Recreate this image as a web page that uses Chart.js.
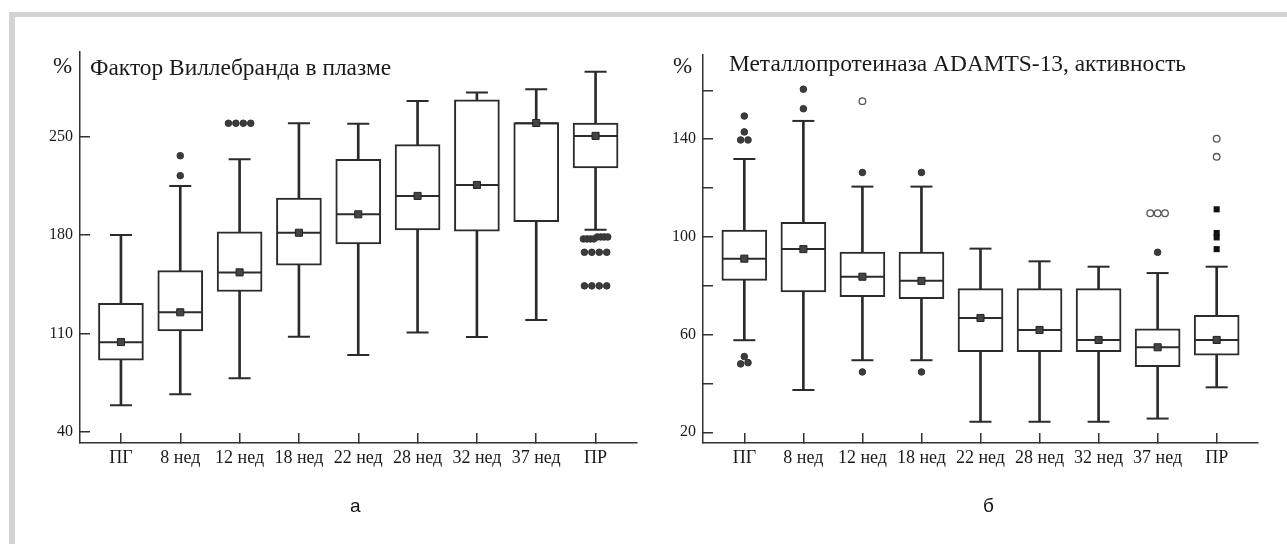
<!DOCTYPE html>
<html><head><meta charset="utf-8">
<script src="https://cdn.jsdelivr.net/npm/chart.js@4.4.1/dist/chart.umd.min.js"></script>
<style>
html,body{margin:0;padding:0;background:#fff;width:1287px;height:544px;overflow:hidden;position:relative;}
#frame{position:absolute;left:9px;top:12px;width:1400px;height:600px;border-top:5px solid #d3d3d3;border-left:6px solid #d3d3d3;}
.wrap{position:absolute;top:0;height:544px;}
#wa{left:0;width:660px;}
#wb{left:640px;width:647px;}
.txt{position:absolute;font-family:'Liberation Serif','Times New Roman',serif;font-size:23.4px;line-height:1;color:#1a1a1a;white-space:nowrap;}
.pct{font-size:23px;}
.cap{position:absolute;font-family:'Liberation Sans',Arial,sans-serif;font-size:19px;line-height:19px;color:#111;}
</style></head>
<body>
<div id="frame"></div>
<div class="wrap" id="wa"><canvas id="ca"></canvas></div>
<div class="wrap" id="wb"><canvas id="cb"></canvas></div>
<div class="txt pct" style="left:53px;top:54px;">%</div>
<div class="txt" style="left:90px;top:56px;">Фактор Виллебранда в плазме</div>
<div class="txt pct" style="left:673px;top:54px;">%</div>
<div class="txt" style="left:729px;top:52px;">Металлопротеиназа ADAMTS-13, активность</div>
<div class="cap" style="left:350px;top:496px;">а</div>
<div class="cap" style="left:983px;top:496px;">б</div>
<script>
// ---------- data ----------
const categories = ['ПГ','8 нед','12 нед','18 нед','22 нед','28 нед','32 нед','37 нед','ПР'];

// (а) Фактор Виллебранда в плазме, %
const vwfTicks  = [40, 110, 180, 250];
const vwfMin    = [58.8, 66.6, 78, 107.6, 94.6, 110.7, 107.4, 119.5, 183.8];
const vwfQ1     = [91, 111.7, 139.8, 158.6, 173.6, 183.6, 182.8, 189.5, 227.7];
const vwfMedian = [103.6, 125, 153.4, 181.6, 194.7, 207.8, 215.6, 259.5, 250.5];
const vwfQ3     = [131.4, 154.6, 182.3, 206.3, 233.9, 244.3, 276.1, 260, 259.7];
const vwfMax    = [180, 214.9, 233.9, 259.5, 259.2, 275.4, 281.3, 283.7, 296.2];
const vwfMean   = [103.8, 125, 153.4, 181.6, 194.7, 207.8, 215.6, 259.7, 250.5];
const vwfOutliers = [
  [], [222.2, 236.4], [259.5, 259.5, 259.5, 259.5], [], [], [], [], [],
  [143.8, 143.8, 143.8, 143.8, 167.7, 167.7, 167.7, 167.7, 177.2, 177.2, 177.2, 177.2, 178.6, 178.6, 178.6, 178.6]
];

// (б) Металлопротеиназа ADAMTS-13, активность, %
const adTicks      = [20, 40, 60, 80, 100, 120, 140, 160];
const adTickLabels = [20, 60, 100, 140];
const adMin    = [57.7, 37.3, 49.5, 49.5, 24.3, 24.3, 24.3, 25.6, 38.4];
const adQ1     = [82.2, 77.5, 75.5, 74.7, 53, 53, 53, 46.9, 51.6];
const adMedian = [91.1, 95, 83.7, 82, 66.8, 61.9, 57.8, 54.8, 57.8];
const adQ3     = [102.8, 106, 93.8, 93.8, 78.8, 78.8, 78.8, 62.4, 67.9];
const adMax    = [131.9, 147.5, 120.6, 120.6, 95.2, 90, 87.8, 85.2, 87.8];
const adMean   = [91.1, 95, 83.7, 82, 66.8, 61.9, 57.8, 54.8, 57.8];
const adOutliers     = [[48, 48.5, 51, 139.7, 139.7, 143, 149.5], [152.5, 160.5], [44.7, 126.4], [44.7, 126.4], [], [], [], [93.7], []];
const adOpenOutliers = [[], [], [155.6], [], [], [], [], [109.7, 109.7, 109.7], [132.8, 140.2]];
const adExtremes     = [[], [], [], [], [], [], [], [], [95, 99.8, 101.6, 111.3]];

// ---------- helpers ----------
const INK = '#2b2b2b';
const DOT_STEP = 0.125;   // horizontal spacing of tied outliers, in category units
const MAX_SPAN = 0.41;

function spreadPoints(lists, tol) {
  const pts = [];
  lists.forEach((vals, i) => {
    const sorted = vals.slice().sort((a, b) => a - b);
    const groups = [];
    sorted.forEach(v => {
      const g = groups[groups.length - 1];
      if (g && v - g[0] <= tol) g.push(v); else groups.push([v]);
    });
    groups.forEach(g => {
      const n = g.length;
      const step = n > 1 ? Math.min(DOT_STEP, MAX_SPAN / (n - 1)) : 0;
      g.forEach((v, k) => pts.push({x: i + (k - (n - 1) / 2) * step, y: v}));
    });
  });
  return pts;
}
const at = arr => arr.map((v, i) => ({x: i, y: v}));
const range = (a, b) => a.map((v, i) => ({x: i, y: [v, b[i]]}));

function makeChart(id, cfg) {
  const datasets = [
    {type: 'bar', data: range(cfg.min, cfg.max), backgroundColor: INK, borderWidth: 0,
     barThickness: 2, grouped: false, order: 9},
    {type: 'bar', data: range(cfg.q1, cfg.q3), backgroundColor: '#ffffff', borderColor: INK,
     borderWidth: 2, borderSkipped: false, barThickness: 45, grouped: false, order: 8},
    {type: 'scatter', data: at(cfg.min), pointStyle: 'line', pointRadius: 11, pointBorderWidth: 2, pointBorderColor: INK, order: 7},
    {type: 'scatter', data: at(cfg.max), pointStyle: 'line', pointRadius: 11, pointBorderWidth: 2, pointBorderColor: INK, order: 7},
    {type: 'scatter', data: at(cfg.median), pointStyle: 'line', pointRadius: 21.5, pointBorderWidth: 2, pointBorderColor: INK, order: 6},
    {type: 'scatter', data: at(cfg.mean), pointStyle: 'rect', pointRadius: 5, pointBorderWidth: 1,
     pointBorderColor: '#222', pointBackgroundColor: '#444', order: 5},
    {type: 'scatter', data: spreadPoints(cfg.outliers, cfg.tol), pointStyle: 'circle', pointRadius: 3.3,
     pointBorderWidth: 1, pointBorderColor: '#333', pointBackgroundColor: '#3c3c3c', order: 4}
  ];
  if (cfg.open) datasets.push({type: 'scatter', data: spreadPoints(cfg.open, cfg.tol), pointStyle: 'circle', pointRadius: 3.3,
     pointBorderWidth: 1.3, pointBorderColor: '#555', pointBackgroundColor: '#ffffff', order: 3});
  if (cfg.extremes) datasets.push({type: 'scatter', data: spreadPoints(cfg.extremes, cfg.tol), pointStyle: 'rect', pointRadius: 4.3,
     pointBorderWidth: 0, pointBackgroundColor: '#111', order: 2});

  return new Chart(document.getElementById(id), {
    type: 'bar',
    data: {datasets},
    options: {
      responsive: true, maintainAspectRatio: false, animation: false, events: [],
      layout: {padding: cfg.padding},
      plugins: {legend: {display: false}, tooltip: {enabled: false}, title: {display: false}},
      scales: {
        x: {
          type: 'linear', min: cfg.xMin, max: cfg.xMax, offset: false,
          afterBuildTicks: s => { s.ticks = categories.map((c, i) => ({value: i})); },
          afterFit: s => { s.height = 30; },
          ticks: {callback: v => categories[v], autoSkip: false, maxRotation: 0, minRotation: 0,
                  padding: 14, color: '#1a1a1a', font: {family: "'Liberation Serif', serif", size: 18}},
          grid: {offset: false, drawOnChartArea: false, drawTicks: true, tickLength: -10, color: '#333', lineWidth: 1.5},
          border: {display: true, color: '#333', width: 1.5}
        },
        y: {
          type: 'linear', min: cfg.yMin, max: cfg.yMax,
          afterBuildTicks: s => { s.ticks = cfg.ticks.map(v => ({value: v})); },
          afterFit: s => { s.width = 50; },
          ticks: {callback: v => cfg.labels.includes(v) ? String(v) : '', padding: 17, color: '#1a1a1a',
                  font: {family: "'Liberation Serif', serif", size: 16}},
          grid: {offset: false, drawOnChartArea: false, drawTicks: true, tickLength: -10, color: '#333', lineWidth: 1.5},
          border: {display: true, color: '#333', width: 1.5}
        }
      }
    }
  });
}

makeChart('ca', {
  min: vwfMin, q1: vwfQ1, median: vwfMedian, q3: vwfQ3, max: vwfMax, mean: vwfMean,
  outliers: vwfOutliers, tol: 2.5,
  ticks: vwfTicks, labels: vwfTicks, yMin: 32, yMax: 310.2, xMin: -0.69, xMax: 8.69,
  padding: {left: 30, right: 23, top: 52, bottom: 71}
});
makeChart('cb', {
  min: adMin, q1: adQ1, median: adMedian, q3: adQ3, max: adMax, mean: adMean,
  outliers: adOutliers, open: adOpenOutliers, extremes: adExtremes, tol: 1,
  ticks: adTicks, labels: adTickLabels, yMin: 15.6, yMax: 174.5, xMin: -0.7, xMax: 8.7,
  padding: {left: 13, right: 29, top: 55, bottom: 71}
});
</script>
</body></html>
